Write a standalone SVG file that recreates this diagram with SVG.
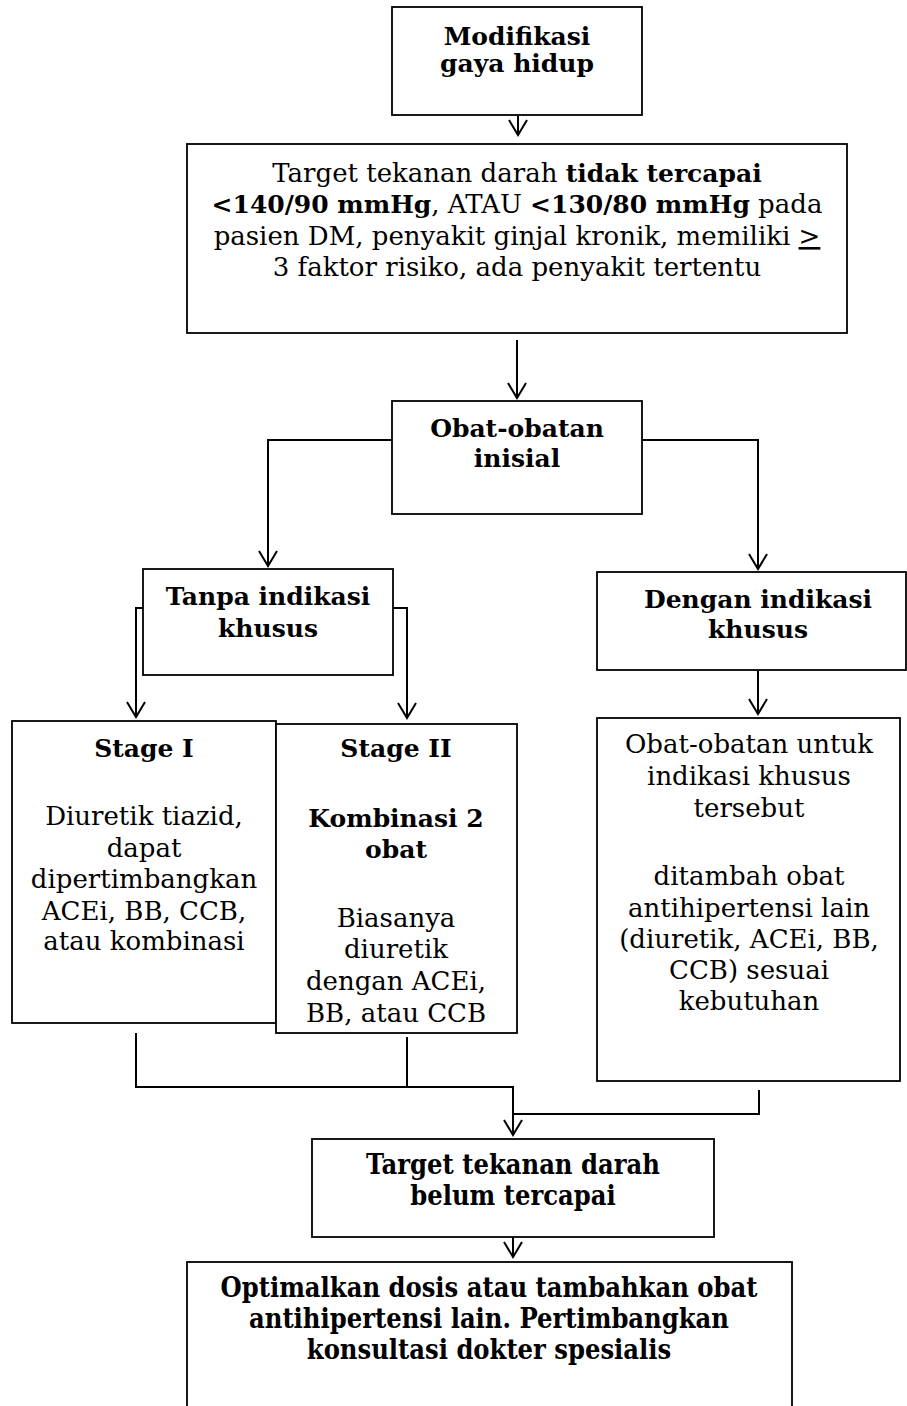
<svg xmlns="http://www.w3.org/2000/svg" width="907" height="1406" viewBox="0 0 907 1406">
<style>
.box{fill:#fff;stroke:#000;stroke-width:1.8}
.con{fill:none;stroke:#000;stroke-width:2}
.t{font-family:"DejaVu Serif","Liberation Serif",serif;font-size:26px;fill:#000;text-anchor:middle}
.b{font-weight:bold;font-size:25px}
.c{font-family:"DejaVu Serif","Liberation Serif",serif;font-stretch:condensed;font-weight:bold;font-size:27px;fill:#000;text-anchor:middle}
</style>
<defs>
<marker id="ah" viewBox="-1 -10 18 20" refX="15" refY="0" markerWidth="18" markerHeight="20" markerUnits="userSpaceOnUse" orient="auto">
<polyline points="0,-9 15,0 0,9" fill="none" stroke="#000" stroke-width="2"/>
</marker>
</defs>
<rect width="907" height="1406" fill="#fff"/>
<g id="connectors">
<path class="con" d="M518,116 V135" marker-end="url(#ah)"/>
<path class="con" d="M517,340 V398" marker-end="url(#ah)"/>
<path class="con" d="M392,440 H268 V566" marker-end="url(#ah)"/>
<path class="con" d="M642,440 H758 V569" marker-end="url(#ah)"/>
<path class="con" d="M143,608 H136 V717" marker-end="url(#ah)"/>
<path class="con" d="M393,608 H407 V718" marker-end="url(#ah)"/>
<path class="con" d="M758,671 V714" marker-end="url(#ah)"/>
<path class="con" d="M136,1033 V1087 H513"/>
<path class="con" stroke-width="3" d="M407,1037 V1087 H513 V1135" marker-end="url(#ah)"/>
<path class="con" d="M759,1090 V1114 H513"/>
<path class="con" d="M513,1237 V1257" marker-end="url(#ah)"/>
</g>
<g id="n1">
<rect class="box" x="392" y="7" width="250" height="108"/>
<text class="t b" x="517" y="45">Modifikasi</text>
<text class="t b" x="517" y="72">gaya hidup</text>
</g>
<g id="n2">
<rect class="box" x="187" y="144" width="660" height="189"/>
<text class="t" x="517" y="182">Target tekanan darah <tspan class="b">tidak tercapai</tspan></text>
<text class="t" x="517" y="213"><tspan class="b">&lt;140/90 mmHg</tspan>, ATAU <tspan class="b">&lt;130/80 mmHg</tspan> pada</text>
<text class="t" x="517" y="245">pasien DM, penyakit ginjal kronik, memiliki <tspan text-decoration="underline">&gt;</tspan></text>
<text class="t" x="517" y="276">3 faktor risiko, ada penyakit tertentu</text>
</g>
<g id="n3">
<rect class="box" x="392" y="401" width="250" height="113"/>
<text class="t b" x="517" y="437">Obat-obatan</text>
<text class="t b" x="517" y="467">inisial</text>
</g>
<g id="n4">
<rect class="box" x="143" y="569" width="250" height="106"/>
<text class="t b" x="268" y="605">Tanpa indikasi</text>
<text class="t b" x="268" y="637">khusus</text>
</g>
<g id="n5">
<rect class="box" x="597" y="572" width="309" height="98"/>
<text class="t b" x="758" y="608">Dengan indikasi</text>
<text class="t b" x="758" y="638">khusus</text>
</g>
<g id="n6">
<rect class="box" x="12" y="721" width="264" height="302"/>
<text class="t b" x="144" y="757">Stage I</text>
<text class="t" x="144" y="825">Diuretik tiazid,</text>
<text class="t" x="144" y="857">dapat</text>
<text class="t" x="144" y="888">dipertimbangkan</text>
<text class="t" x="144" y="920">ACEi, BB, CCB,</text>
<text class="t" x="144" y="950">atau kombinasi</text>
</g>
<g id="n7">
<rect class="box" x="276" y="724" width="241" height="309"/>
<text class="t b" x="396" y="757">Stage II</text>
<text class="t b" x="396" y="827">Kombinasi 2</text>
<text class="t b" x="396" y="858">obat</text>
<text class="t" x="396" y="927">Biasanya</text>
<text class="t" x="396" y="958">diuretik</text>
<text class="t" x="396" y="990">dengan ACEi,</text>
<text class="t" x="396" y="1022">BB, atau CCB</text>
</g>
<g id="n8">
<rect class="box" x="597" y="718" width="303" height="363"/>
<text class="t" x="749" y="753">Obat-obatan untuk</text>
<text class="t" x="749" y="785">indikasi khusus</text>
<text class="t" x="749" y="817">tersebut</text>
<text class="t" x="749" y="885">ditambah obat</text>
<text class="t" x="749" y="917">antihipertensi lain</text>
<text class="t" x="749" y="948">(diuretik, ACEi, BB,</text>
<text class="t" x="749" y="979">CCB) sesuai</text>
<text class="t" x="749" y="1010">kebutuhan</text>
</g>
<g id="n9">
<rect class="box" x="312" y="1139" width="402" height="98"/>
<text class="c" x="513" y="1174">Target tekanan darah</text>
<text class="c" x="513" y="1205">belum tercapai</text>
</g>
<g id="n10">
<rect class="box" x="187" y="1262" width="605" height="160"/>
<text class="c" x="489" y="1297">Optimalkan dosis atau tambahkan obat</text>
<text class="c" x="489" y="1328">antihipertensi lain. Pertimbangkan</text>
<text class="c" x="489" y="1359">konsultasi dokter spesialis</text>
</g>
</svg>
